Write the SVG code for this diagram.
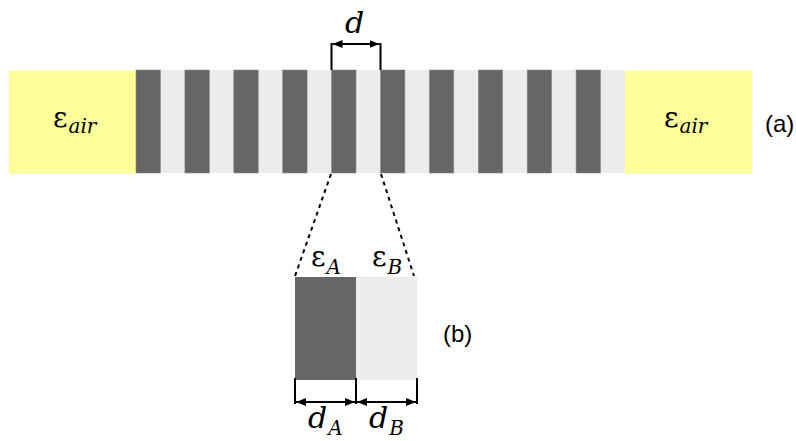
<svg xmlns="http://www.w3.org/2000/svg" width="796" height="441" viewBox="0 0 796 441">
<style>
.air{fill:#ffff99}
.dark{fill:#666666;stroke:#8a8a8a;stroke-width:0.6}
.light{fill:#ececec}
.ln{stroke:#000;stroke-width:2;fill:none}
.dot{stroke:#000;stroke-width:2;stroke-dasharray:4,4;fill:none}
.eps{font-family:"DejaVu Serif",serif;font-size:28px;fill:#000}
.sub{font-family:"DejaVu Serif",serif;font-style:italic;font-size:20px;fill:#000}
.dd{font-family:"DejaVu Serif",serif;font-style:italic;font-size:30px;fill:#000}
.lab{font-family:"Liberation Sans",Arial,sans-serif;font-size:24px;fill:#000}
</style>
<defs>
<marker id="ah" viewBox="0 0 10 8" refX="10" refY="4" markerWidth="10" markerHeight="8" markerUnits="userSpaceOnUse" orient="auto-start-reverse">
<path d="M0,0 L10,4 L0,8 Z" fill="#000"/>
</marker>
</defs>
<g id="air-left">
<rect class="air" x="9" y="71" width="127" height="103"/>
<text x="53" y="127"><tspan class="eps">ε</tspan><tspan class="sub" dx="1" dy="6">air</tspan></text>
</g>
<g id="crystal">
<rect class="light" x="136" y="70" width="489" height="103"/>
<rect class="dark" x="136" y="70" width="24.4" height="103"/>
<rect class="dark" x="184.9" y="70" width="24.4" height="103"/>
<rect class="dark" x="233.8" y="70" width="24.4" height="103"/>
<rect class="dark" x="282.7" y="70" width="24.4" height="103"/>
<rect class="dark" x="331.6" y="70" width="24.4" height="103"/>
<rect class="dark" x="380.5" y="70" width="24.4" height="103"/>
<rect class="dark" x="429.4" y="70" width="24.4" height="103"/>
<rect class="dark" x="478.3" y="70" width="24.4" height="103"/>
<rect class="dark" x="527.2" y="70" width="24.4" height="103"/>
<rect class="dark" x="576.1" y="70" width="24.4" height="103"/>
</g>
<g id="air-right">
<rect class="air" x="625" y="71" width="127" height="103"/>
<text x="664" y="127"><tspan class="eps">ε</tspan><tspan class="sub" dx="1" dy="6">air</tspan></text>
</g>
<text id="label-a" class="lab" x="765" y="132">(a)</text>
<g id="cell">
<rect fill="#666666" x="295" y="277" width="61" height="103"/>
<rect class="light" x="356" y="277" width="61" height="103"/>
<text x="311" y="266"><tspan class="eps">ε</tspan><tspan class="sub" dx="1" dy="8">A</tspan></text>
<text x="372" y="266"><tspan class="eps">ε</tspan><tspan class="sub" dx="1" dy="8">B</tspan></text>
</g>
<text id="label-b" class="lab" x="443" y="342">(b)</text>
<g id="connectors">
<path class="ln" d="M331.5,70 V43 M380.5,70 V43"/>
<line class="ln" x1="332.5" y1="44" x2="379.5" y2="44" marker-start="url(#ah)" marker-end="url(#ah)"/>
<line class="dot" x1="331" y1="174" x2="295" y2="276"/>
<line class="dot" x1="381" y1="174" x2="414" y2="276"/>
<path class="ln" d="M295,378 V404 M356,378 V404 M417,378 V404"/>
<line class="ln" x1="296" y1="402" x2="355" y2="402" marker-start="url(#ah)" marker-end="url(#ah)"/>
<line class="ln" x1="357" y1="402" x2="416" y2="402" marker-start="url(#ah)" marker-end="url(#ah)"/>
</g>
<text class="dd" x="345" y="33">d</text>
<text x="308" y="428"><tspan class="dd">d</tspan><tspan class="sub" dx="1" dy="7">A</tspan></text>
<text x="369" y="428"><tspan class="dd">d</tspan><tspan class="sub" dx="1" dy="7">B</tspan></text>
</svg>
